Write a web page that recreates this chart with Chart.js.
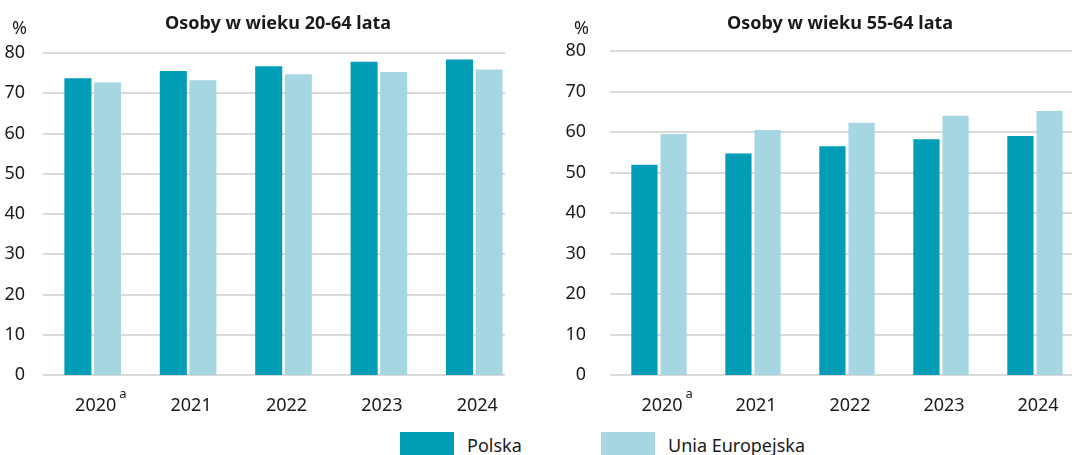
<!DOCTYPE html>
<html lang="pl">
<head>
<meta charset="utf-8">
<script src="https://cdn.jsdelivr.net/npm/chart.js@4/dist/chart.umd.min.js"></script>
<style>
  html, body { margin: 0; padding: 0; background: #fff; overflow: hidden; }
  body { width: 1072px; height: 455px; position: relative; font-family: 'Noto Sans', sans-serif; color: #1a1a1a; }
  .box { position: absolute; top: 0; height: 420px; }
  .ttl { position: absolute; top: 10px; font-weight: bold; font-size: 18px; white-space: nowrap; transform: translateX(-50%); }
  .pct { position: absolute; top: 15px; font-size: 18px; }
  #legend { position: absolute; top: 432px; left: 0; width: 1072px; height: 30px; }
  .lg-item { position: absolute; top: 0; display: flex; align-items: flex-start; font-size: 18px; }
  .lg-sw { width: 54px; height: 26px; margin-right: 13px; }
  .lg-txt { line-height: 26px; margin-top: 0px; }
</style>
</head>
<body>
<div class="box" style="left:0;width:540px"><canvas id="c-left"></canvas></div>
<div class="box" style="left:560px;width:530px"><canvas id="c-right"></canvas></div>
<div class="ttl" id="t-left" style="left:278px"></div>
<div class="ttl" id="t-right" style="left:840px"></div>
<div class="pct" style="left:12px">%</div>
<div class="pct" style="left:574px">%</div>
<div id="legend"></div>
<script>
'use strict';

// ── data ────────────────────────────────────────────────────────────────
const years = ['2020', '2021', '2022', '2023', '2024'];
const footnoteYear = '2020';
const seriesNames = ['Polska', 'Unia Europejska'];
const seriesColors = ['#019cb5', '#a7d6e3'];

const title2064 = 'Osoby w wieku 20-64 lata';
const polska2064 = [73.7, 75.5, 76.7, 77.8, 78.4];
const ue2064 = [72.7, 73.2, 74.7, 75.3, 75.9];

const title5564 = 'Osoby w wieku 55-64 lata';
const polska5564 = [51.9, 54.7, 56.5, 58.2, 59.0];
const ue5564 = [59.5, 60.5, 62.3, 64.0, 65.2];

const yTicks = [0, 10, 20, 30, 40, 50, 60, 70, 80];

// ── plugins ─────────────────────────────────────────────────────────────
// horizontal grid drawn under the bars, can stop short of the chart's right edge
const gridPlugin = {
  id: 'gridLines',
  beforeDatasetsDraw(chart, args, opts) {
    const { ctx, chartArea, scales } = chart;
    const x0 = chartArea.left - 2;
    const x1 = opts.right != null ? opts.right : chartArea.right;
    ctx.save();
    ctx.strokeStyle = '#dadada';
    ctx.lineWidth = 2;
    yTicks.forEach(v => {
      const y = Math.round(scales.y.getPixelForValue(v));
      ctx.beginPath();
      ctx.moveTo(x0, y);
      ctx.lineTo(x1, y);
      ctx.stroke();
    });
    ctx.restore();
  }
};

// small superscript "a" next to the first year label
const footnotePlugin = {
  id: 'footnote',
  afterDraw(chart) {
    const { ctx, scales } = chart;
    const idx = years.indexOf(footnoteYear);
    if (idx < 0) return;
    ctx.save();
    ctx.font = '18px "Noto Sans"';
    const w = ctx.measureText(footnoteYear).width;
    const x = scales.x.getPixelForValue(idx) + w / 2 + 6;
    ctx.font = '13px "Noto Sans"';
    ctx.fillStyle = '#1a1a1a';
    ctx.textBaseline = 'middle';
    ctx.fillText('a', x, 394);
    ctx.restore();
  }
};

function makeChart(id, title, pl, ue, cfg) {
  document.getElementById(cfg.titleId).textContent = title;
  return new Chart(document.getElementById(id), {
    type: 'bar',
    data: {
      labels: years,
      datasets: [
        { label: seriesNames[0], data: pl, backgroundColor: seriesColors[0] },
        { label: seriesNames[1], data: ue, backgroundColor: seriesColors[1] },
      ],
    },
    options: {
      responsive: true,
      maintainAspectRatio: false,
      animation: false,
      categoryPercentage: cfg.catPct,
      barPercentage: cfg.barPct,
      layout: { padding: { top: cfg.top, right: cfg.right, left: 0, bottom: 0 } },
      plugins: {
        legend: { display: false },
        tooltip: { enabled: false },
        gridLines: { right: cfg.gridRight },
      },
      scales: {
        x: {
          grid: { display: false },
          border: { display: false },
          ticks: { color: '#1a1a1a', font: { family: 'Noto Sans', size: 18 }, padding: 12, maxRotation: 0, labelOffset: 3 },
          afterFit: s => { s.height = 45; },
        },
        y: {
          min: 0,
          max: 80,
          grid: { display: false },
          border: { display: false },
          ticks: { stepSize: 10, color: '#1a1a1a', font: { family: 'Noto Sans', size: 18 }, padding: cfg.tickPad },
          afterFit: s => { s.width = cfg.yWidth; },
        },
      },
    },
    plugins: [gridPlugin, footnotePlugin],
  });
}

makeChart('c-left', title2064, polska2064, ue2064, {
  titleId: 't-left', top: 53, right: 18, yWidth: 45, tickPad: 12,
  gridRight: 505, catPct: 0.62, barPct: 0.915,
});
makeChart('c-right', title5564, polska5564, ue5564, {
  titleId: 't-right', top: 51, right: 8, yWidth: 52, tickPad: 18,
  gridRight: null, catPct: 0.62, barPct: 0.9,
});

// ── legend ──────────────────────────────────────────────────────────────
const legendX = [400, 601];
document.getElementById('legend').innerHTML = seriesNames.map((n, i) => `
  <div class="lg-item" style="left:${legendX[i]}px">
    <div class="lg-sw" style="background:${seriesColors[i]}"></div>
    <div class="lg-txt">${n}</div>
  </div>`).join('');
</script>
</body>
</html>
